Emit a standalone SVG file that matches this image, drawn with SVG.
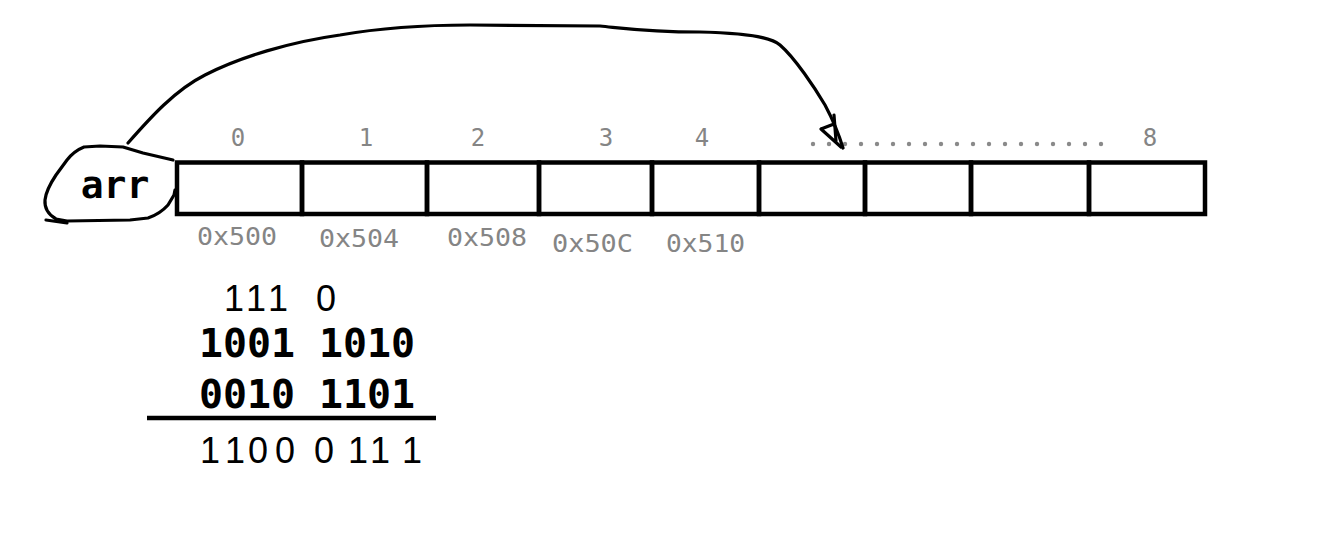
<svg xmlns="http://www.w3.org/2000/svg" width="1339" height="548" viewBox="0 0 1339 548">
<style>
.cell{fill:none;stroke:#000;stroke-width:4.5}
.ink{fill:none;stroke:#000;stroke-width:3.2;stroke-linecap:round;stroke-linejoin:round}
.idx{font-family:"DejaVu Sans Mono","Liberation Mono",monospace;font-size:24px;fill:#858585;text-anchor:middle}
.addr{font-family:"DejaVu Sans Mono","Liberation Mono",monospace;font-size:24px;fill:#858585}
.bin{font-family:"DejaVu Sans Mono","Liberation Mono",monospace;font-size:39px;font-weight:bold;fill:#000}
.hand{font-family:"Liberation Sans","DejaVu Sans",sans-serif;fill:#000;text-anchor:middle}
.dot{fill:#8a8a8a}
</style>
<rect width="1339" height="548" fill="#fff"/>
<g id="arr">
<path class="ink" d="M173,160 L143,153 L123,147 L100,146 L84,147 Q74,151 67,160 L56,175 Q46,190 45,200 Q44,212 56,219 L67,221 L130,220 L148,218 Q160,214 168,205 L174,195 L175,190"/>
<path class="ink" d="M46,220 L67,223"/>
<text x="115" y="198" font-family="'DejaVu Sans Mono','Liberation Mono',monospace" font-size="38" font-weight="bold" text-anchor="middle">arr</text>
</g>
<g id="array">
<g id="cell0"><rect class="cell" x="177" y="162.5" width="125" height="51.5"/></g>
<g id="cell1"><rect class="cell" x="302" y="162.5" width="125" height="51.5"/></g>
<g id="cell2"><rect class="cell" x="427" y="162.5" width="112" height="51.5"/></g>
<g id="cell3"><rect class="cell" x="539" y="162.5" width="113" height="51.5"/></g>
<g id="cell4"><rect class="cell" x="652" y="162.5" width="107" height="51.5"/></g>
<g id="cell5"><rect class="cell" x="759" y="162.5" width="106" height="51.5"/></g>
<g id="cell6"><rect class="cell" x="865" y="162.5" width="106" height="51.5"/></g>
<g id="cell7"><rect class="cell" x="971" y="162.5" width="118" height="51.5"/></g>
<g id="cell8"><rect class="cell" x="1089" y="162.5" width="116" height="51.5"/></g>
</g>
<g id="indices">
<text class="idx" x="238" y="146">0</text>
<text class="idx" x="366" y="146">1</text>
<text class="idx" x="478" y="146">2</text>
<text class="idx" x="606" y="146">3</text>
<text class="idx" x="702" y="146">4</text>
<text class="idx" x="1150" y="146">8</text>
<g id="dots">
<circle class="dot" cx="813" cy="144" r="2.2"/><circle class="dot" cx="829" cy="144" r="2.2"/><circle class="dot" cx="845" cy="144" r="2.2"/><circle class="dot" cx="861" cy="144" r="2.2"/><circle class="dot" cx="877" cy="144" r="2.2"/><circle class="dot" cx="893" cy="144" r="2.2"/><circle class="dot" cx="909" cy="144" r="2.2"/><circle class="dot" cx="925" cy="144" r="2.2"/><circle class="dot" cx="941" cy="144" r="2.2"/><circle class="dot" cx="957" cy="144" r="2.2"/><circle class="dot" cx="973" cy="144" r="2.2"/><circle class="dot" cx="989" cy="144" r="2.2"/><circle class="dot" cx="1005" cy="144" r="2.2"/><circle class="dot" cx="1021" cy="144" r="2.2"/><circle class="dot" cx="1037" cy="144" r="2.2"/><circle class="dot" cx="1053" cy="144" r="2.2"/><circle class="dot" cx="1069" cy="144" r="2.2"/><circle class="dot" cx="1085" cy="144" r="2.2"/><circle class="dot" cx="1101" cy="144" r="2.2"/>
</g>
</g>
<g id="addresses">
<text class="addr" x="197" y="245" textLength="80" lengthAdjust="spacingAndGlyphs">0x500</text>
<text class="addr" x="319" y="247" textLength="80" lengthAdjust="spacingAndGlyphs">0x504</text>
<text class="addr" x="447" y="246" textLength="80" lengthAdjust="spacingAndGlyphs">0x508</text>
<text class="addr" x="552" y="252" textLength="81" lengthAdjust="spacingAndGlyphs">0x50C</text>
<text class="addr" x="666" y="252" textLength="79" lengthAdjust="spacingAndGlyphs">0x510</text>
</g>
<g id="connectors">
<path class="ink" d="M128,143 C150,118 175,90 205,75 C240,57 290,42 340,35 C380,28 420,25 470,25 L600,26 C630,29 650,32 700,32 C740,33 770,36 780,45 C795,58 815,88 825,105 C833,120 840,138 843,148"/>
<path class="ink" d="M834,115 L836,141 M821,129 L834,124 M821,129 L841,147"/>
</g>
<g id="sum">
<g id="carries" class="hand" font-size="36"><text x="234 256 278 326" y="311">1110</text></g>
<text class="bin" x="199" y="357" textLength="216" lengthAdjust="spacingAndGlyphs">1001 1010</text>
<text class="bin" x="199" y="408" textLength="216" lengthAdjust="spacingAndGlyphs">0010 1101</text>
<line x1="147" y1="418" x2="436" y2="418" stroke="#000" stroke-width="4.5"/>
<g id="result" class="hand" font-size="36"><text x="210 235 258 285 324 358 380 412" y="463">11000111</text></g>
</g>
</svg>
